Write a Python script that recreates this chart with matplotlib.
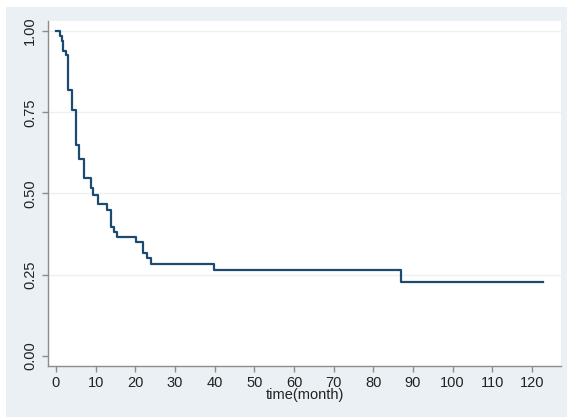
import matplotlib
matplotlib.use("Agg")
import matplotlib.pyplot as plt
from matplotlib.patches import Rectangle

# Kaplan-Meier style step data
event_times = [0, 1.1, 1.5, 1.9, 2.5, 3.1, 4.1, 5.1, 5.8, 7.0, 8.8, 9.4,
               10.7, 12.9, 13.9, 14.6, 15.5, 20.2, 22.0, 22.9, 24.0, 39.8,
               87.0, 122.8]
survival = [1.0, 0.985, 0.97, 0.94, 0.926, 0.818, 0.757, 0.65, 0.606, 0.548,
            0.516, 0.495, 0.468, 0.449, 0.398, 0.383, 0.367, 0.352, 0.316,
            0.30, 0.282, 0.265, 0.227, 0.227]

x_ticks = list(range(0, 130, 10))
y_ticks = [0.0, 0.25, 0.5, 0.75, 1.0]
y_labels = ["0.00", "0.25", "0.50", "0.75", "1.00"]

plt.rcParams["font.family"] = ["Liberation Sans", "DejaVu Sans"]

W, H = 567, 417
fig = plt.figure(figsize=(W / 100, H / 100), dpi=100, facecolor="white")

# light blue-grey outer region (Stata style), kept behind the axes
bg = Rectangle((6 / W, 0), 1 - 6 / W, 1 - 7 / H, transform=fig.transFigure,
               facecolor="#eaf0f3", edgecolor="none", zorder=-10)
fig.add_artist(bg)

ax = fig.add_axes([48 / W, (H - 366) / H, (561 - 48) / W, (366 - 21) / H])
ax.set_facecolor("white")

line_color = "#1c4a70"
ax.step(event_times, survival, where="post", color=line_color, linewidth=1.6)

for y in y_ticks[1:]:
    ax.axhline(y, color="#eef0f0", linewidth=1.0, zorder=0)

ax.set_xlim(-2, 127.3)
ax.set_ylim(-0.031, 1.031)
ax.set_xticks(x_ticks)
ax.set_yticks(y_ticks)
ax.set_yticklabels(y_labels, rotation=90, va="center")

for side in ["top", "right"]:
    ax.spines[side].set_visible(False)
for side in ["left", "bottom"]:
    ax.spines[side].set_color("#8c8c8c")
    ax.spines[side].set_linewidth(1.0)

ax.tick_params(axis="both", colors="#8c8c8c", labelcolor="#222222",
               labelsize=10.5, length=4, width=1.0, direction="out")
ax.tick_params(axis="x", pad=3)
ax.tick_params(axis="y", pad=4)

ax.set_xlabel("time(month)", fontsize=10.5, color="#222222", labelpad=-1)

fig.savefig("out.png", dpi=100, facecolor=fig.get_facecolor())
